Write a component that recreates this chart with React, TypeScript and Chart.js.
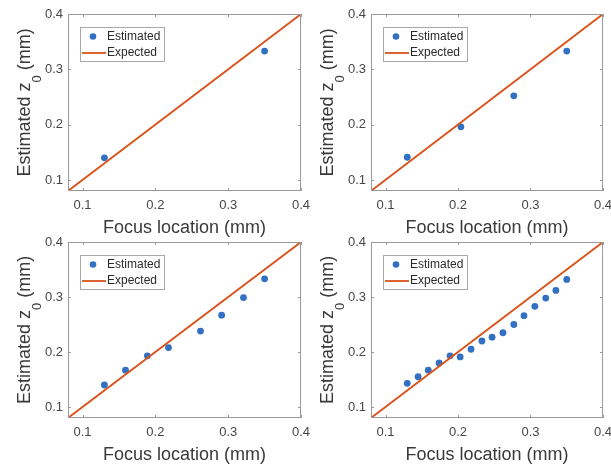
import React, { useEffect, useRef } from 'react';
import { Chart, registerables } from 'chart.js';

Chart.register(...registerables);

// ---- data ----
const axisMin = 0.08;
const axisMax = 0.4;
const tickValues = [0.1, 0.2, 0.3, 0.4];
const tickLabels = ['0.1', '0.2', '0.3', '0.4'];

const expectedX = [0.08, 0.4];
const expectedY = [0.08, 0.4];

const p1X = [0.13, 0.35];
const p1Y = [0.14, 0.333];

const p2X = [0.13, 0.204, 0.277, 0.35];
const p2Y = [0.141, 0.196, 0.252, 0.333];

const p3X = [0.13, 0.159, 0.189, 0.218, 0.262, 0.291, 0.321, 0.35];
const p3Y = [0.14, 0.167, 0.193, 0.208, 0.238, 0.267, 0.299, 0.333];

const p4X = [0.13, 0.145, 0.159, 0.174, 0.189, 0.203, 0.218, 0.233, 0.247, 0.262, 0.277, 0.291, 0.306, 0.321, 0.335, 0.35];
const p4Y = [0.143, 0.155, 0.167, 0.18, 0.193, 0.191, 0.205, 0.22, 0.227, 0.235, 0.25, 0.266, 0.283, 0.298, 0.312, 0.332];

const xTitle = 'Focus location (mm)';
const yTitleMain = 'Estimated z';
const yTitleSub = '0';
const yTitleEnd = ' (mm)';
const legendLabels = ['Estimated', 'Expected'];

// ---- style ----
const FONT = '"Liberation Sans", Arial, Helvetica, sans-serif';
const BLUE = '#3170c2';
const ORANGE = '#d95319';
const BORDER = '#9a9a9a';
const TICK_COLOR = '#474747';
const TITLE_COLOR = '#3a3a3a';

const Y_AXIS_W = 68;
const X_AXIS_H = 48;
const PAD_TOP = 14;
const PAD_RIGHT = 12;

const panels = [
  { xs: p1X, ys: p1Y, l: 68, t: 14, r: 301, b: 191 },
  { xs: p2X, ys: p2Y, l: 371, t: 14, r: 603, b: 191 },
  { xs: p3X, ys: p3Y, l: 68, t: 242, r: 301, b: 418 },
  { xs: p4X, ys: p4Y, l: 371, t: 242, r: 603, b: 418 },
];

const framePlugin = {
  id: 'frame',
  afterDatasetsDraw(chart: any) {
    const { ctx, chartArea: ca, scales } = chart;
    ctx.save();
    ctx.strokeStyle = BORDER;
    ctx.lineWidth = 1;
    ctx.strokeRect(ca.left + 0.5, ca.top + 0.5, ca.right - ca.left - 1, ca.bottom - ca.top - 1);
    ctx.beginPath();
    const tl = 3;
    tickValues.forEach((v) => {
      const x = Math.round(scales.x.getPixelForValue(v)) + 0.5;
      ctx.moveTo(x, ca.bottom);
      ctx.lineTo(x, ca.bottom - tl);
      ctx.moveTo(x, ca.top);
      ctx.lineTo(x, ca.top + tl);
      const y = Math.round(scales.y.getPixelForValue(v)) + 0.5;
      ctx.moveTo(ca.left, y);
      ctx.lineTo(ca.left + tl, y);
      ctx.moveTo(ca.right, y);
      ctx.lineTo(ca.right - tl, y);
    });
    ctx.stroke();
    ctx.restore();
  },
};

const legendPlugin = {
  id: 'customLegend',
  afterDraw(chart: any) {
    const { ctx, chartArea: ca } = chart;
    const bx = Math.round(ca.left + 12) + 0.5;
    const by = Math.round(ca.top + 13) + 0.5;
    const bw = 84;
    const bh = 34;
    ctx.save();
    ctx.fillStyle = '#ffffff';
    ctx.fillRect(bx, by, bw, bh);
    ctx.strokeStyle = '#a8a8a8';
    ctx.lineWidth = 1;
    ctx.strokeRect(bx, by, bw, bh);
    const r1 = by + 9;
    const r2 = by + 25.5;
    ctx.fillStyle = BLUE;
    ctx.beginPath();
    ctx.arc(bx + 12.5, r1, 3.3, 0, Math.PI * 2);
    ctx.fill();
    ctx.strokeStyle = ORANGE;
    ctx.lineWidth = 1.8;
    ctx.beginPath();
    ctx.moveTo(bx + 1.5, r2);
    ctx.lineTo(bx + 25.5, r2);
    ctx.stroke();
    ctx.fillStyle = '#2a2a2a';
    ctx.font = `12px ${FONT}`;
    ctx.textBaseline = 'middle';
    ctx.textAlign = 'left';
    ctx.fillText(legendLabels[0], bx + 26.5, r1);
    ctx.fillText(legendLabels[1], bx + 26.5, r2);
    ctx.restore();
  },
};

const yTitlePlugin = {
  id: 'yTitle',
  afterDraw(chart: any) {
    const { ctx, chartArea: ca } = chart;
    const mainSize = 18;
    const subSize = 13;
    ctx.save();
    ctx.fillStyle = TITLE_COLOR;
    ctx.textBaseline = 'alphabetic';
    ctx.textAlign = 'left';
    ctx.font = `${mainSize}px ${FONT}`;
    const w1 = ctx.measureText(yTitleMain).width;
    const w3 = ctx.measureText(yTitleEnd).width;
    ctx.font = `${subSize}px ${FONT}`;
    const w2 = ctx.measureText(yTitleSub).width;
    const total = w1 + w2 + w3;
    const cy = (ca.top + ca.bottom) / 2;
    const baseX = ca.left - 38;
    ctx.translate(baseX, cy);
    ctx.rotate(-Math.PI / 2);
    let x = -total / 2;
    ctx.font = `${mainSize}px ${FONT}`;
    ctx.fillText(yTitleMain, x, 0);
    x += w1;
    ctx.font = `${subSize}px ${FONT}`;
    ctx.fillText(yTitleSub, x, 11);
    x += w2;
    ctx.font = `${mainSize}px ${FONT}`;
    ctx.fillText(yTitleEnd, x, 0);
    ctx.restore();
  },
};

function Panel({ xs, ys, l, t, r, b }: any) {
  const ref = useRef<HTMLCanvasElement | null>(null);
  const cw = r - l + Y_AXIS_W + PAD_RIGHT;
  const ch = b - t + PAD_TOP + X_AXIS_H;
  const cl = l - Y_AXIS_W;
  const ct = t - PAD_TOP;

  useEffect(() => {
    if (!ref.current) return;
    const chart = new Chart(ref.current, {
      type: 'scatter',
      data: {
        datasets: [
          {
            label: legendLabels[0],
            data: xs.map((x: number, i: number) => ({ x, y: ys[i] })),
            backgroundColor: BLUE,
            borderWidth: 0,
            pointRadius: 3.4,
            showLine: false,
            order: 1,
          },
          {
            label: legendLabels[1],
            type: 'line',
            data: expectedX.map((x, i) => ({ x, y: expectedY[i] })),
            borderColor: ORANGE,
            borderWidth: 1.8,
            pointRadius: 0,
            fill: false,
            order: 0,
          } as any,
        ],
      },
      options: {
        animation: false,
        responsive: false,
        devicePixelRatio: 1,
        layout: { padding: { left: 0, top: PAD_TOP, right: PAD_RIGHT, bottom: 0 } },
        plugins: { legend: { display: false }, tooltip: { enabled: false } },
        scales: {
          x: {
            type: 'linear',
            min: axisMin,
            max: axisMax,
            grid: { display: false, drawTicks: false },
            border: { display: false },
            afterBuildTicks: (s: any) => {
              s.ticks = tickValues.map((v) => ({ value: v }));
            },
            afterFit: (s: any) => {
              s.height = X_AXIS_H;
              s.paddingLeft = 0;
              s.paddingRight = 0;
            },
            ticks: {
              padding: 7,
              color: TICK_COLOR,
              font: { family: FONT, size: 13 },
              maxRotation: 0,
              autoSkip: false,
              callback: (_v: any, i: number) => tickLabels[i],
            },
            title: {
              display: true,
              text: xTitle,
              color: TITLE_COLOR,
              font: { family: FONT, size: 18 },
              padding: 0,
            },
          },
          y: {
            type: 'linear',
            min: axisMin,
            max: axisMax,
            grid: { display: false, drawTicks: false },
            border: { display: false },
            afterBuildTicks: (s: any) => {
              s.ticks = tickValues.map((v) => ({ value: v }));
            },
            afterFit: (s: any) => {
              s.width = Y_AXIS_W;
              s.paddingTop = 0;
              s.paddingBottom = 0;
            },
            ticks: {
              padding: 5,
              color: TICK_COLOR,
              font: { family: FONT, size: 13 },
              autoSkip: false,
              callback: (_v: any, i: number) => tickLabels[i],
            },
          },
        },
      } as any,
      plugins: [framePlugin, legendPlugin, yTitlePlugin],
    });
    return () => chart.destroy();
  }, []);

  return (
    <canvas
      ref={ref}
      width={cw}
      height={ch}
      style={{ position: 'absolute', left: cl, top: ct, width: cw, height: ch, display: 'block' }}
    />
  );
}

export default function App() {
  return (
    <div
      style={{
        position: 'absolute',
        left: 0,
        top: 0,
        width: 611,
        height: 465,
        overflow: 'hidden',
        background: '#ffffff',
      }}
    >
      {panels.map((p, i) => (
        <Panel key={i} {...p} />
      ))}
    </div>
  );
}
